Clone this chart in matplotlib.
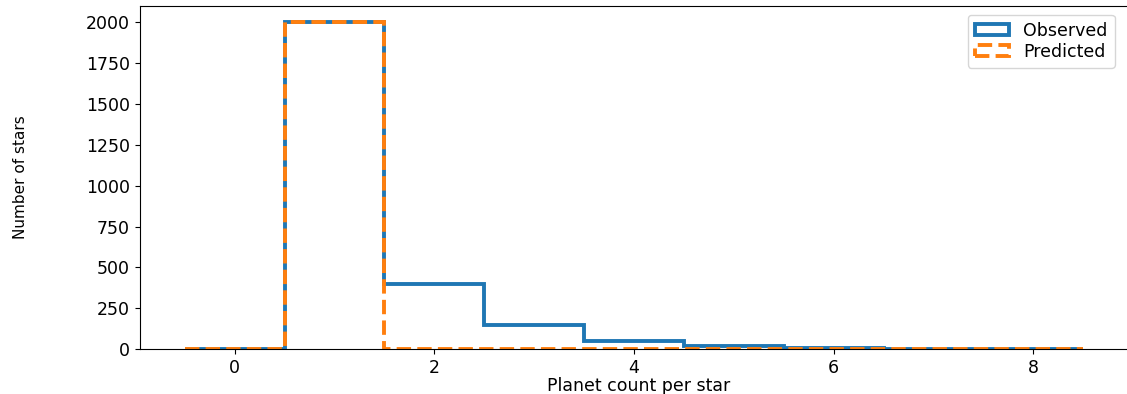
import numpy as np
import matplotlib.pyplot as plt

# planet count per star (bin centres) and star counts
planet_counts = [0, 1, 2, 3, 4, 5, 6, 7, 8]
observed = [0, 2000, 400, 150, 50, 20, 8, 0, 0]
predicted = [0, 2000, 0, 0, 0, 0, 0, 0, 0]

bins = np.arange(-0.5, 9.0, 1.0)

fig = plt.figure(figsize=(11.27, 3.94), dpi=100)
ax = fig.add_axes([0.124, 0.114, 0.886, 0.871])

ax.hist(planet_counts, bins=bins, weights=observed, histtype='step',
        color='#1f77b4', linewidth=2.8, label='Observed')
ax.hist(planet_counts, bins=bins, weights=predicted, histtype='step',
        color='#ff7f0e', linewidth=2.8, linestyle='--', label='Predicted')

ax.set_xlim(-0.95, 9.05)
ax.set_yticks([0, 250, 500, 750, 1000, 1250, 1500, 1750, 2000])
ax.set_xticks([0, 2, 4, 6, 8])
ax.tick_params(labelsize=12.5)
ax.set_xlabel('Planet count per star', fontsize=12.5, labelpad=0)
ax.set_ylabel('Number of stars', fontsize=11)
ax.yaxis.set_label_coords(-0.112, 0.5)
ax.legend(loc='upper right', fontsize=12.5, bbox_to_anchor=(0.985, 1.0),
          handleheight=0.6, labelspacing=0.2)

plt.savefig('out.png', dpi=100)
